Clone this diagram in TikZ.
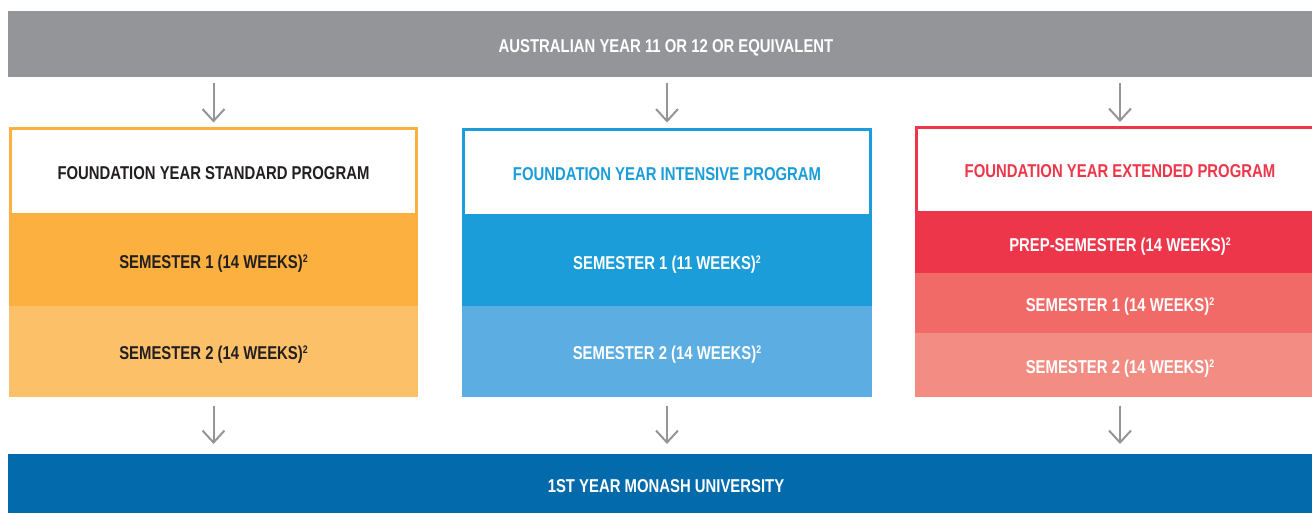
\documentclass[tikz,border=0pt]{standalone}
\usepackage{fontspec}
\setmainfont{Liberation Sans}[FakeStretch=0.8]
\usetikzlibrary{arrows.meta}
\definecolor{barGray}{HTML}{939598}
\definecolor{arrGray}{HTML}{939598}
\definecolor{darkT}{HTML}{231F20}
\definecolor{orA}{HTML}{FBB040}
\definecolor{orB}{HTML}{FCC068}
\definecolor{blA}{HTML}{1A9DD8}
\definecolor{blB}{HTML}{5CADE1}
\definecolor{rdA}{HTML}{EE364B}
\definecolor{rdB}{HTML}{F26A67}
\definecolor{rdC}{HTML}{F38C82}
\definecolor{monash}{HTML}{036AAB}
\newcommand{\supt}{\raisebox{6pt}{\fontsize{11}{11}\selectfont 2}}
\begin{document}
\begin{tikzpicture}[x=1pt,y=-1pt,
  font=\fontsize{18.6}{20}\selectfont\bfseries,
  box/.style={rectangle, inner sep=0pt, outer sep=0pt, anchor=north west, align=center, text height=16.5pt, text depth=0pt},
  hdr/.style={box, fill=white, line width=3pt},
  arr/.style={draw=arrGray, line width=2pt, -{Straight Barb[length=12pt,width=22pt]}}]
\useasboundingbox (0,0) rectangle (1312,512);
\clip (0,0) rectangle (1312,512);
% top and bottom bars
\node[box, fill=barGray, text=white, minimum width=1316, minimum height=66] (top) at (8,11) {AUSTRALIAN YEAR 11 OR 12 OR EQUIVALENT};
\node[box, fill=monash, text=white, minimum width=1316, minimum height=60] (bot) at (8,454) {1ST YEAR MONASH UNIVERSITY};
% column 1
\node[box, fill=orA, text=darkT, minimum width=409, minimum height=91] (a1) at (9,215) {SEMESTER 1 (14 WEEKS)\supt};
\node[box, fill=orB, text=darkT, minimum width=409, minimum height=91] (a2) at (9,306) {SEMESTER 2 (14 WEEKS)\supt};
\node[hdr, draw=orA, text=darkT, minimum width=406, minimum height=86] (ha) at (10.5,128.5) {FOUNDATION YEAR STANDARD PROGRAM};
% column 2
\node[box, fill=blA, text=white, minimum width=410, minimum height=90] (b1) at (462,216) {SEMESTER 1 (11 WEEKS)\supt};
\node[box, fill=blB, text=white, minimum width=410, minimum height=91] (b2) at (462,306) {SEMESTER 2 (14 WEEKS)\supt};
\node[hdr, draw=blA, text=blA, minimum width=407, minimum height=86] (hb) at (463.5,129.5) {FOUNDATION YEAR INTENSIVE PROGRAM};
% column 3
\node[box, fill=rdA, text=white, minimum width=410, minimum height=60] (c0) at (915,213) {PREP-SEMESTER (14 WEEKS)\supt};
\node[box, fill=rdB, text=white, minimum width=410, minimum height=60] (c1) at (915,273) {SEMESTER 1 (14 WEEKS)\supt};
\node[box, fill=rdC, text=white, minimum width=410, minimum height=64] (c2) at (915,333) {SEMESTER 2 (14 WEEKS)\supt};
\node[hdr, draw=rdA, text=rdA, minimum width=407, minimum height=85] (hc) at (916.5,127) {FOUNDATION YEAR EXTENDED PROGRAM};
% arrows
\draw[arr, shorten <=6pt, shorten >=6pt] (top.south -| ha.north) -- (ha.north);
\draw[arr, shorten <=6pt, shorten >=7pt] (top.south -| hb.north) -- (hb.north);
\draw[arr, shorten <=6pt, shorten >=5pt] (top.south -| hc.north) -- (hc.north);
\draw[arr, shorten <=8.5pt, shorten >=10pt] (a2.south) -- (bot.north -| a2.south);
\draw[arr, shorten <=8.5pt, shorten >=10pt] (b2.south) -- (bot.north -| b2.south);
\draw[arr, shorten <=8.5pt, shorten >=10pt] (c2.south) -- (bot.north -| c2.south);
\end{tikzpicture}
\end{document}
